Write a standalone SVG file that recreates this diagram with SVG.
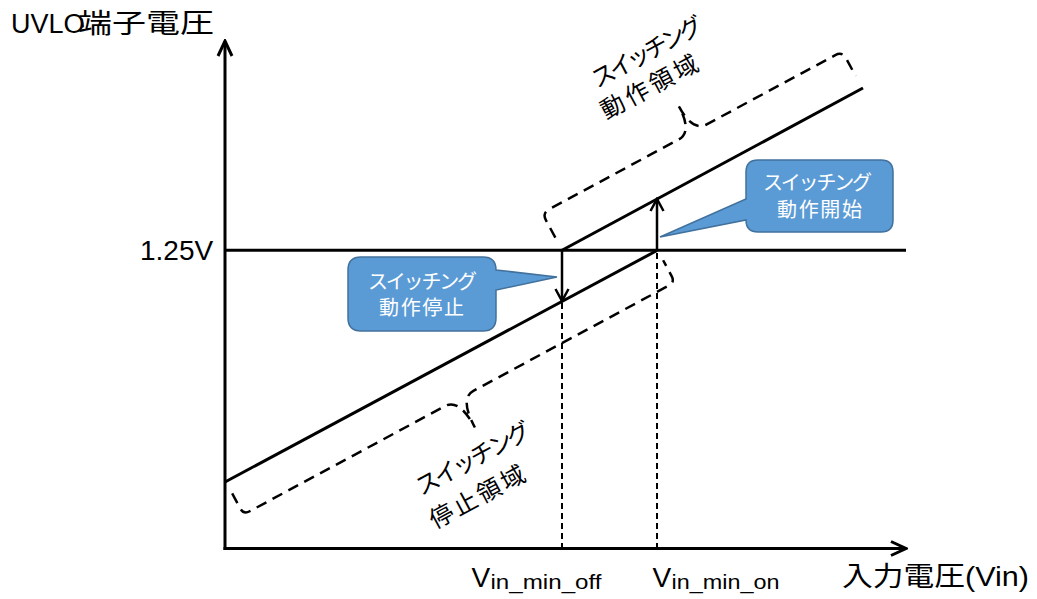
<svg xmlns="http://www.w3.org/2000/svg" width="1037" height="599" viewBox="0 0 1037 599">
<style>
.ln{fill:none;stroke:#000;stroke-width:3}
.dash{fill:none;stroke:#000;stroke-width:2.5;stroke-dasharray:11,7}
.vdash{fill:none;stroke:#000;stroke-width:2;stroke-dasharray:6,4}
.arr{fill:none;stroke:#000;stroke-width:2.5}
.lat{font-family:"Liberation Sans",Arial,sans-serif;fill:#000}
.jp{font-family:"Noto Sans CJK JP",sans-serif;fill:#000}
.call{fill:#5B9BD5;stroke:#41719C;stroke-width:1.5}
.ct{font-family:"Noto Sans CJK JP",sans-serif;fill:#fff;font-size:20px;text-anchor:middle}
.rt{font-family:"Noto Sans CJK JP",sans-serif;fill:#000;font-size:24px;text-anchor:middle}
</style>
<defs>
<marker id="axh" viewBox="-18 -10 20 20" refX="0" refY="0" markerWidth="20" markerHeight="20" markerUnits="userSpaceOnUse" orient="auto">
<path d="M-15,-7 L0,0 L-15,7" fill="none" stroke="#000" stroke-width="3"/>
</marker>
<marker id="sah" viewBox="-15 -9 17 18" refX="0" refY="0" markerWidth="17" markerHeight="18" markerUnits="userSpaceOnUse" orient="auto">
<path d="M-12,-6.5 L0,0 L-12,6.5" fill="none" stroke="#000" stroke-width="2.5"/>
</marker>
</defs>
<rect width="1037" height="599" fill="#fff"/>
<g id="connectors">
<line class="ln" x1="225" y1="550" x2="225" y2="41" marker-end="url(#axh)"/>
<line class="ln" x1="223.5" y1="548.5" x2="906" y2="548.5" marker-end="url(#axh)"/>
<line class="ln" x1="225" y1="250.3" x2="906" y2="250.3"/>
<line class="ln" x1="225" y1="482" x2="657" y2="250.5"/>
<line class="ln" x1="562" y1="250.3" x2="863" y2="88"/>
<line class="arr" x1="562" y1="250.3" x2="562" y2="301" marker-end="url(#sah)"/>
<line class="arr" x1="657" y1="250.3" x2="657" y2="199" marker-end="url(#sah)"/>
<line class="vdash" x1="562" y1="303" x2="562" y2="548"/>
<line class="vdash" x1="657" y1="253" x2="657" y2="548"/>
<path class="dash" transform="translate(562,250) rotate(-28.3)" d="M0,-14 L0,-34 Q0,-42 8,-42 L155,-42 Q171,-42 171,-71 Q171,-42 187,-42 L333,-42 Q341,-42 341,-34 L341,-14"/>
<path class="dash" transform="translate(226,482) rotate(-28.3)" d="M0,13 L0,30 Q0,37 7,37 L229,37 Q245,37 245,70 Q245,37 261,37 L483,37 Q490,37 490,30 L490,12"/>
</g>
<g id="axis-labels">
<text y="33"><tspan class="lat" x="11" font-size="27">UVLO</tspan><tspan class="jp" x="78" font-size="27" textLength="136" lengthAdjust="spacingAndGlyphs">端子電圧</tspan></text>
<text class="lat" x="140" y="260" font-size="28">1.25V</text>
<text class="lat" x="471.5" y="586.7" font-size="28">V</text>
<text class="lat" x="490.5" y="589.3" font-size="21" textLength="111" lengthAdjust="spacingAndGlyphs">in_min_off</text>
<text class="lat" x="652.5" y="586.7" font-size="28">V</text>
<text class="lat" x="671.5" y="589.3" font-size="21" textLength="108" lengthAdjust="spacingAndGlyphs">in_min_on</text>
<text class="jp" x="842" y="586" font-size="27" textLength="123" lengthAdjust="spacingAndGlyphs">入力電圧</text>
<text class="lat" x="965" y="586" font-size="28" textLength="64" lengthAdjust="spacingAndGlyphs">(Vin)</text>
</g>
<g id="region-on">
<text class="rt" transform="translate(647,51.5) rotate(-28.3)" x="0" y="9" textLength="123">スイッチング</text>
<text class="rt" transform="translate(649,86.5) rotate(-28.3)" x="0" y="9" textLength="107">動作領域</text>
</g>
<g id="region-off">
<text class="rt" transform="translate(473,458) rotate(-28.3)" x="0" y="9" textLength="127">スイッチング</text>
<text class="rt" transform="translate(477,496.5) rotate(-28.3)" x="0" y="9" textLength="105">停止領域</text>
</g>
<g id="callout-start">
<path class="call" d="M758,160 H881 Q893,160 893,172 V220 Q893,232 881,232 H758 Q746,232 746,220 L660,237 L746,199 V172 Q746,160 758,160 Z"/>
<text class="ct" x="817.5" y="190" textLength="109">スイッチング</text>
<text class="ct" x="819.5" y="216.5" textLength="85">動作開始</text>
</g>
<g id="callout-stop">
<path class="call" d="M361,257 H483 Q496,257 496,270 L557,277 L496,290 V318 Q496,331 483,331 H361 Q348,331 348,318 V270 Q348,257 361,257 Z"/>
<text class="ct" x="422.5" y="288.5" textLength="109">スイッチング</text>
<text class="ct" x="421.5" y="315" textLength="85">動作停止</text>
</g>
</svg>
